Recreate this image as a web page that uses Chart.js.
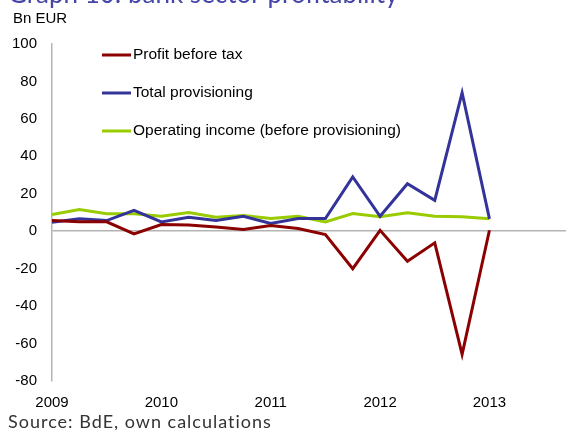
<!DOCTYPE html>
<html>
<head>
<meta charset="utf-8">
<script src="https://cdn.jsdelivr.net/npm/chart.js@4/dist/chart.umd.min.js"></script>
<style>
  html, body { margin: 0; padding: 0; background: #fff; overflow: hidden; }
  #wrap { position: relative; width: 566px; height: 430px; }
</style>
</head>
<body>
<div id="wrap"><canvas id="profitChart" width="566" height="430"></canvas></div>
<script>
// Quarterly data, 2009Q1 - 2013Q1 (Bn EUR)
const quarters = ['2009Q1', '2009Q2', '2009Q3', '2009Q4',
                  '2010Q1', '2010Q2', '2010Q3', '2010Q4',
                  '2011Q1', '2011Q2', '2011Q3', '2011Q4',
                  '2012Q1', '2012Q2', '2012Q3', '2012Q4',
                  '2013Q1'];
const profitBeforeTax = [5.7, 5, 5, -1.4, 3.6, 3.3, 2.3, 0.9, 3, 1.4, -1.8, -20, 0.5, -16, -6.2, -65.8, 0.5];
const totalProvisioning = [4.8, 6.6, 5.7, 11.2, 5, 7.5, 5.7, 8, 4.1, 6.8, 6.8, 29, 8, 25.4, 16.5, 74, 6.6];
const operatingIncome = [8.9, 11.6, 9.3, 9.3, 8, 10, 7.5, 8.4, 6.8, 8, 5, 9.4, 7.7, 9.8, 8, 7.7, 6.6];
const yearLabels = ['2009', '2010', '2011', '2012', '2013'];

const seriesNames = ['Profit before tax', 'Total provisioning', 'Operating income (before provisioning)'];
const seriesColors = ['#8b0000', '#33339a', '#99cc00'];

function toPoints(values) {
    return values.map((v, i) => ({ x: i, y: v }));
}

// Legend, title and notes drawn straight onto the canvas
const extrasPlugin = {
    id: 'extras',
    afterDraw(chart) {
        const c = chart.ctx;
        c.save();
        // cut-off title
        c.fillStyle = '#4646a8';
        c.font = '26px Lato, sans-serif';
        c.textBaseline = 'alphabetic';
        c.fillText('Graph 10: bank sector profitability', 8, 3);

        c.fillStyle = '#000';
        c.font = '15px "Liberation Sans", Arial, sans-serif';
        c.textBaseline = 'middle';
        c.fillText('Bn EUR', 13, 19);

        // legend
        c.font = '15.5px "Liberation Sans", Arial, sans-serif';
        const rows = [55, 93, 131];
        chart.data.datasets.forEach((ds, i) => {
            c.strokeStyle = ds.borderColor;
            c.lineWidth = 3;
            c.beginPath();
            c.moveTo(102, rows[i]);
            c.lineTo(131, rows[i]);
            c.stroke();
            c.fillStyle = '#000';
            c.fillText(ds.label, 133, rows[i]);
        });

        // source
        c.fillStyle = '#333';
        c.font = '18px Lato, sans-serif';
        c.letterSpacing = '1px';
        c.fillText('Source: BdE, own calculations', 8, 422);
        c.restore();
    }
};

const ctx = document.getElementById('profitChart');
new Chart(ctx, {
    type: 'line',
    data: {
        datasets: [
            { label: seriesNames[0], data: toPoints(profitBeforeTax) },
            { label: seriesNames[1], data: toPoints(totalProvisioning) },
            { label: seriesNames[2], data: toPoints(operatingIncome) }
        ].map((ds, i) => Object.assign(ds, {
            borderColor: seriesColors[i],
            backgroundColor: seriesColors[i],
            borderWidth: 3,
            pointRadius: 0,
            tension: 0,
            fill: false
        }))
    },
    options: {
        responsive: false,
        animation: false,
        layout: { padding: { top: 44, right: 0, bottom: 0, left: 0 } },
        plugins: {
            legend: { display: false },
            tooltip: { enabled: false }
        },
        scales: {
            x: {
                type: 'linear',
                min: 0,
                max: 18.8,
                afterBuildTicks: (axis) => {
                    axis.ticks = yearLabels.map((y, i) => ({ value: i * 4 }));
                },
                afterFit: (axis) => { axis.height = 49; },
                grid: { display: false },
                border: { display: false },
                ticks: {
                    autoSkip: false,
                    maxRotation: 0,
                    padding: 5,
                    color: '#000',
                    font: { family: '"Liberation Sans", Arial, sans-serif', size: 15 },
                    callback: (value) => yearLabels[Math.round(value / 4)]
                }
            },
            y: {
                min: -80,
                max: 100,
                afterFit: (axis) => { axis.width = 52; },
                grid: {
                    drawTicks: false,
                    lineWidth: 1.5,
                    color: (c) => c.tick && c.tick.value === 0 ? '#b4b4b4' : 'rgba(0,0,0,0)'
                },
                border: { display: true, color: '#b4b4b4', width: 1.5 },
                ticks: {
                    stepSize: 20,
                    padding: 15,
                    color: '#000',
                    font: { family: '"Liberation Sans", Arial, sans-serif', size: 15 }
                }
            }
        }
    },
    plugins: [extrasPlugin]
});
</script>
</body>
</html>
